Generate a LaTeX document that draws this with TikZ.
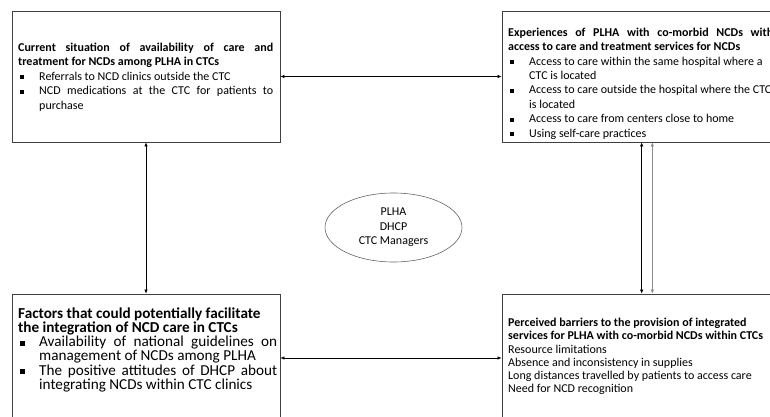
\documentclass[tikz,border=0pt]{standalone}
\usepackage{fontspec}
\setmainfont{Carlito}
\usetikzlibrary{shapes.geometric,arrows.meta}

\setlength{\parindent}{0pt}
\setlength{\parskip}{0pt}
\newcommand\sqitem[1][4pt]{\par\noindent\hangindent=21pt\hangafter=1\makebox[21pt][l]{\hspace{2pt}\rule[1pt]{#1}{#1}}\ignorespaces}

\tikzset{
  panel/.style={rectangle, draw=black!75, line width=0.8pt, inner sep=0pt, minimum width=268pt, minimum height=131pt},
  paneltext/.style={anchor=north west, inner sep=0pt, align=justify, text width=#1},
  link/.style={<->, >={Latex[length=4pt,width=3.5pt]}, line width=0.6pt}
}

\begin{document}
\begin{tikzpicture}[x=1pt, y=-1pt]
\useasboundingbox (0,0) rectangle (770,417);
\clip (0,0) rectangle (770,417);
% Boxes
\node (cur_sit) [panel] at (146,76.5) {};
\node (exp_plha) [panel, minimum width=276pt] at (640,76.5) {};
\node (fac_int) [panel, minimum height=128pt] at (146,358) {};
\node (barriers) [panel, minimum width=276pt, minimum height=128pt] at (640,358) {};
\node (part) [ellipse, draw=black!60, line width=0.6pt, minimum width=137pt, minimum height=69pt, align=center, font=\fontsize{12}{14.5}\selectfont] at (393.5,227.5) {PLHA\\DHCP\\CTC Managers};

% Box texts
\node (cur_txt) [paneltext=255pt, font=\fontsize{12}{14.5}\selectfont] at (18,41.2) {\rule{0pt}{10pt}\textbf{Current situation of availability of care and\linebreak treatment for NCDs among PLHA in CTCs}
\sqitem Referrals to NCD clinics outside the CTC
\sqitem NCD medications at the CTC for patients to\linebreak purchase\par};
\node (exp_txt) [paneltext=265pt, font=\fontsize{12}{14.4}\selectfont] at (508,26.2) {\rule{0pt}{10pt}\textbf{Experiences of PLHA with co-morbid NCDs with\linebreak access to care and treatment services for NCDs}
\sqitem Access to care within the same hospital where a\newline CTC is located
\sqitem Access to care outside the hospital where the CTC\newline is located
\sqitem Access to care from centers close to home
\sqitem Using self-care practices\par};
\node (fac_txt) [paneltext=259pt, font=\fontsize{15.2}{14.2}\selectfont] at (18,305.5) {\rule{0pt}{12.5pt}\textbf{Factors that could potentially facilitate\newline the integration of NCD care in CTCs}
\sqitem[5pt] Availability of national guidelines on\linebreak management of NCDs among PLHA
\sqitem[5pt] The positive attitudes of DHCP about\linebreak integrating NCDs within CTC clinics\par};
\node (bar_txt) [paneltext=265pt, font=\fontsize{12}{13.3}\selectfont] at (508,316.2) {\rule{0pt}{10pt}\textbf{Perceived barriers to the provision of integrated\newline services for PLHA with co-morbid NCDs within CTCs}\newline
Resource limitations\newline
Absence and inconsistency in supplies\newline
Long distances travelled by patients to access care\newline
Need for NCD recognition};

% Links
\draw [link] (cur_sit) -- (exp_plha);
\draw [link] (cur_sit) -- (fac_int);
\draw [link] (fac_int) -- (barriers);
\draw [link] ([xshift=1.7pt]exp_plha.south) -- ([xshift=1.7pt]barriers.north);
\draw [link, draw=black!45] ([xshift=12.3pt]exp_plha.south) -- ([xshift=12.3pt]barriers.north);
\end{tikzpicture}
\end{document}
